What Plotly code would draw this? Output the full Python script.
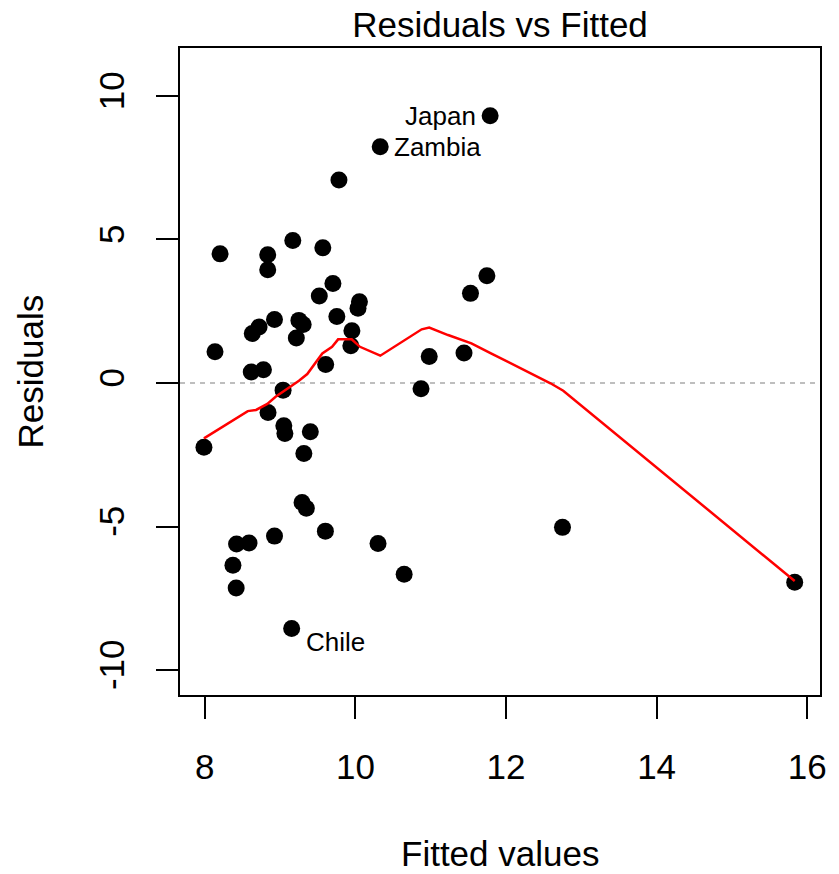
import plotly.graph_objects as go

countries = ["Australia", "Austria", "Belgium", "Bolivia", "Brazil", "Canada", "Chile", "China",
             "Colombia", "Costa Rica", "Denmark", "Ecuador", "Finland", "France", "Germany", "Greece",
             "Guatamala", "Honduras", "Iceland", "India", "Ireland", "Italy", "Japan", "Korea",
             "Luxembourg", "Malta", "Norway", "Netherlands", "New Zealand", "Nicaragua", "Panama",
             "Paraguay", "Peru", "Philippines", "Portugal", "South Africa", "South Rhodesia", "Spain",
             "Sweden", "Switzerland", "Turkey", "Tunisia", "United Kingdom", "United States",
             "Venezuela", "Zambia", "Jamaica", "Uruguay", "Libya", "Malaysia"]
fitted = [9.249, 9.753, 9.701, 7.988, 10.053, 9.039, 9.153, 10.980,
          9.348, 9.215, 9.781, 8.925, 9.939, 10.034, 9.520, 10.871,
          8.587, 9.401, 8.416, 8.616, 9.306, 9.567, 11.789, 10.647,
          8.630, 11.746, 9.605, 11.528, 8.720, 9.063, 9.601,
          8.373, 8.202, 8.835, 11.442, 8.925, 8.835, 9.953,
          9.315, 9.168, 9.291, 8.421, 8.839, 9.049,
          8.135, 10.329, 12.750, 8.778, 15.834, 10.300]
residuals = [2.181, 2.317, 3.469, -2.238, 2.827, -0.249, -8.553, 0.920,
             -4.368, 1.565, 7.069, -5.335, 1.301, 2.606, 3.030, -0.201,
             -5.577, -1.701, -7.146, 0.384, 2.034, 4.713, 9.311, -6.667,
             1.720, 3.734, 0.645, 3.122, 1.950, -1.763, -5.161,
             -6.353, 4.498, 3.945, 1.048, 2.215, 4.465, 1.817,
             -2.455, 4.962, -4.161, -5.611, -1.029, -1.489,
             1.085, 8.231, -5.030, 0.462, -6.944, -5.590]

smooth_x = [7.988, 8.24, 8.57, 8.68, 8.83, 8.94, 9.14, 9.25, 9.36, 9.56, 9.69, 9.77, 9.95,
            10.06, 10.33, 10.88, 10.98, 11.23, 11.54, 11.76, 11.80, 12.59, 12.76, 15.834]
smooth_y = [-1.93, -1.52, -0.98, -0.94, -0.73, -0.48, -0.13, 0.08, 0.31, 1.03, 1.26, 1.52, 1.52,
            1.26, 0.95, 1.87, 1.93, 1.67, 1.38, 1.06, 1.03, -0.01, -0.27, -6.90]

label_names = ["Japan", "Zambia", "Chile"]
label_side = ["left", "right", "right"]

x_ticks = [8, 10, 12, 14, 16]
y_ticks = [-10, -5, 0, 5, 10]

FONT = "Liberation Sans, Arial, Helvetica, sans-serif"

fig = go.Figure()
fig.add_trace(go.Scatter(x=[7.67, 16.17], y=[0, 0], mode="lines",
                         line=dict(color="#bebebe", width=2, dash="5px,5px"),
                         hoverinfo="skip", showlegend=False))
fig.add_trace(go.Scatter(x=fitted, y=residuals, mode="markers", text=countries,
                         marker=dict(color="black", size=17, line=dict(width=0)),
                         showlegend=False))
fig.add_trace(go.Scatter(x=smooth_x, y=smooth_y, mode="lines",
                         line=dict(color="red", width=2.5), showlegend=False))

annotations = []
for name, side in zip(label_names, label_side):
    i = countries.index(name)
    annotations.append(dict(
        x=fitted[i], y=residuals[i], xref="x", yref="y", text=name, showarrow=False,
        xanchor="right" if side == "left" else "left", yanchor="middle",
        xshift=-12 if side == "left" else 12,
        yshift=-14 if name == "Chile" else 0,
        font=dict(family=FONT, size=26, color="black")))

annotations.append(dict(text="Fitted values", xref="paper", yref="paper", x=0.5, y=0,
                        yshift=-158, xanchor="center", yanchor="middle", showarrow=False,
                        font=dict(family=FONT, size=35, color="black")))
annotations.append(dict(text="Residuals", xref="paper", yref="paper", x=0, y=0.5,
                        xshift=-150, xanchor="center", yanchor="middle", showarrow=False,
                        textangle=-90, font=dict(family=FONT, size=35, color="black")))

fig.update_layout(
    width=839, height=874,
    margin=dict(l=180, r=14, t=48, b=179),
    paper_bgcolor="white", plot_bgcolor="white",
    font=dict(family=FONT, size=35, color="black"),
    title=dict(text="Residuals vs Fitted", x=0.5, xref="paper", xanchor="center",
               y=1 - 25 / 874, yref="container", yanchor="middle",
               font=dict(family=FONT, size=35, color="black")),
    annotations=annotations,
    hovermode="closest",
)
fig.update_xaxes(range=[7.67, 16.17], tickvals=x_ticks, ticktext=[str(t) for t in x_ticks],
                 showgrid=False, zeroline=False, showline=True, linecolor="black", linewidth=2,
                 mirror=True, ticks="outside", ticklen=22, tickwidth=2, tickcolor="black",
                 ticklabelstandoff=18, tickfont=dict(family=FONT, size=35, color="black"))
fig.update_yaxes(range=[-10.87, 11.67], tickvals=y_ticks, ticktext=[str(t) for t in y_ticks],
                 showgrid=False, zeroline=False, showline=True, linecolor="black", linewidth=2,
                 mirror=True, ticks="outside", ticklen=22, tickwidth=2, tickcolor="black",
                 tickangle=-90, ticklabelstandoff=18, tickfont=dict(family=FONT, size=35, color="black"))

fig.write_html("out.html")
